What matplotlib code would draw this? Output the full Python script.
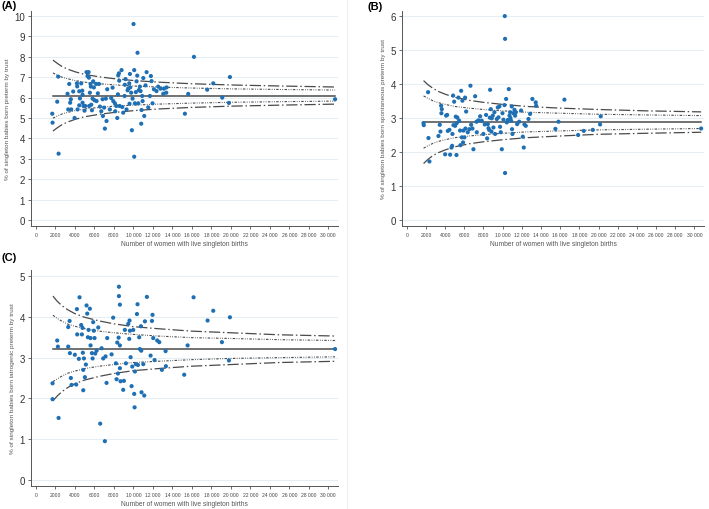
import numpy as np
import matplotlib
matplotlib.use("Agg")
import matplotlib.pyplot as plt

plt.rcParams["font.family"] = ["Liberation Sans", "DejaVu Sans"]

# trusts, panel A: all preterm births
a_births = [1680, 1710, 2190, 2290, 2330, 3250, 3320, 3420, 3520, 3590, 3630, 3830, 3970, 4210, 4240,
            4280, 4450, 4450, 4520, 4650, 4760, 4790, 4790, 4890, 4990, 5060, 5200, 5300, 5410, 5440,
            5470, 5540, 5610, 5640, 5680, 5750, 5820, 5880, 5950, 6020, 6190, 6230, 6360, 6470, 6570,
            6710, 6840, 6880, 7010, 7080, 7180, 7250, 7320, 7590, 7730, 7870, 7940, 8110, 8140, 8250,
            8350, 8420, 8450, 8520, 8550, 8590, 8790, 8860, 8960, 9100, 9130, 9200, 9300, 9410, 9480,
            9580, 9610, 9650, 9680, 9780, 9850, 9920, 10020, 10090, 10090, 10160, 10260, 10330, 10400, 10430,
            10500, 10570, 10670, 10740, 10810, 10840, 10910, 10950, 11020, 11120, 11250, 11360, 11530, 11700, 11800,
            11870, 11970, 12110, 12380, 12550, 12790, 13070, 13140, 13380, 13410, 15290, 15630, 16220, 17580, 18200,
            19120, 19810, 19910, 30700]
a_pct = [5.21, 4.77, 5.80, 7.03, 3.25, 6.19, 5.42, 6.67, 5.75, 5.92, 5.42, 6.30, 5.00, 6.70, 6.55,
         5.42, 5.62, 6.31, 5.96, 6.70, 6.34, 6.14, 5.75, 5.59, 5.36, 5.59, 7.25, 7.06, 7.25, 6.98,
         5.59, 6.24, 6.67, 6.54, 5.65, 5.38, 5.95, 6.80, 6.50, 5.87, 6.67, 5.83, 6.21, 6.67, 5.56,
         5.33, 5.92, 5.10, 5.51, 4.48, 5.95, 4.85, 6.41, 5.42, 5.98, 6.49, 5.83, 5.72, 5.33, 5.59,
         5.00, 6.16, 7.09, 7.19, 6.83, 5.59, 7.35, 5.54, 5.26, 6.08, 6.63, 6.91, 5.42, 6.36, 6.45,
         6.70, 5.70, 7.16, 6.50, 6.24, 4.40, 5.95, 9.61, 7.35, 3.10, 5.72, 6.27, 6.80, 7.08, 8.20,
         5.72, 6.37, 6.54, 6.32, 4.72, 5.39, 6.08, 5.83, 6.96, 5.10, 6.60, 7.25, 5.52, 6.08, 7.06,
         6.81, 5.72, 6.41, 6.32, 6.54, 6.44, 6.19, 6.44, 6.24, 6.50, 5.21, 6.18, 8.00, 6.39, 6.70,
         6.00, 5.74, 7.01, 5.92]
a_mean = 6.1

# panel B: spontaneous preterm births
b_births = [1740, 1770, 2220, 2260, 2360, 3300, 3440, 3510, 3580, 3610, 3650, 4000, 4100, 4210, 4280,
            4450, 4520, 4660, 4730, 4760, 4830, 4870, 4940, 5040, 5110, 5180, 5210, 5280, 5390, 5460,
            5560, 5600, 5670, 5740, 5800, 5870, 5910, 6010, 6080, 6120, 6190, 6360, 6530, 6640, 6710,
            6850, 6950, 7130, 7270, 7300, 7470, 7650, 7820, 7990, 8130, 8270, 8380, 8450, 8520, 8590,
            8660, 8690, 8760, 8830, 8860, 8970, 9040, 9140, 9210, 9390, 9490, 9560, 9660, 9730, 9800,
            9910, 9980, 10080, 10190, 10220, 10250, 10250, 10360, 10430, 10530, 10640, 10710, 10780, 10810, 10880,
            10950, 10980, 11020, 11120, 11230, 11300, 11370, 11510, 11720, 11920, 12100, 12200, 12270, 12410, 12690,
            12860, 13100, 13450, 13490, 15500, 15820, 16440, 17870, 18460, 19400, 20160, 20230, 30700]
b_pct = [2.85, 2.79, 3.76, 2.41, 1.72, 2.47, 2.80, 2.60, 3.36, 3.14, 3.26, 1.93, 3.07, 3.09, 2.62,
         2.65, 1.92, 2.13, 2.18, 2.53, 3.66, 2.79, 3.48, 2.77, 3.04, 1.91, 2.85, 3.01, 3.60, 2.92,
         2.63, 2.20, 3.80, 2.43, 3.51, 2.28, 2.63, 2.43, 3.60, 2.69, 3.19, 2.58, 2.67, 3.95, 2.80,
         2.69, 2.08, 3.64, 2.89, 2.58, 2.93, 3.05, 2.92, 2.53, 2.81, 3.09, 2.40, 2.82, 2.70, 2.65,
         3.01, 3.83, 3.26, 2.60, 2.99, 3.07, 2.72, 3.17, 2.53, 2.97, 3.31, 3.02, 3.34, 2.74, 2.58,
         2.08, 3.14, 2.95, 3.38, 6.00, 5.33, 1.38, 3.56, 2.87, 2.94, 3.85, 3.07, 3.17, 3.00, 2.92,
         3.34, 2.67, 2.53, 3.14, 3.24, 3.07, 3.17, 2.82, 2.89, 3.22, 2.45, 2.13, 2.81, 2.77, 2.97,
         3.12, 3.56, 3.46, 3.36, 2.68, 2.89, 3.54, 2.50, 2.62, 2.65, 2.81, 3.05, 2.69]
b_mean = 2.88

# panel C: iatrogenic preterm births
c_births = [1710, 1710, 2190, 2260, 2330, 3320, 3320, 3460, 3490, 3590, 3660, 4000, 4140, 4210, 4240,
            4410, 4480, 4650, 4720, 4790, 4820, 4860, 4860, 4930, 5030, 5130, 5200, 5270, 5340, 5410,
            5540, 5610, 5610, 5750, 5820, 5880, 5950, 6020, 6090, 6230, 6400, 6600, 6740, 6910, 7080,
            7150, 7250, 7320, 7770, 7930, 8210, 8280, 8350, 8420, 8490, 8520, 8520, 8620, 8620, 8620,
            8690, 8960, 9030, 9130, 9240, 9480, 9580, 9610, 9650, 9720, 9820, 9890, 9990, 10090, 10130,
            10160, 10260, 10370, 10430, 10470, 10600, 10670, 10780, 10810, 10840, 11020, 11120, 11190, 11390, 11770,
            11910, 11970, 12040, 12180, 12450, 12660, 12930, 13310, 13340, 15220, 15570, 16180, 17620, 18200, 19090,
            19810, 19910, 30700]
c_pct = [1.98, 2.37, 3.42, 3.27, 1.52, 3.75, 3.27, 3.90, 3.11, 2.50, 2.33, 3.07, 2.34, 4.19, 3.57,
         2.97, 4.48, 3.80, 3.57, 3.73, 3.12, 2.20, 2.70, 2.98, 2.52, 2.83, 4.28, 4.08, 3.50, 3.68,
         4.20, 3.30, 3.48, 3.11, 2.98, 3.87, 3.66, 3.48, 3.10, 3.17, 3.74, 1.38, 3.23, 2.98, 0.95,
         3.03, 2.38, 3.48, 3.08, 3.98, 2.86, 2.47, 3.37, 2.61, 3.49, 4.74, 4.51, 4.30, 3.30, 2.74,
         2.42, 2.21, 2.43, 3.68, 2.86, 3.83, 3.46, 3.91, 3.66, 3.01, 2.30, 2.78, 3.68, 2.11, 1.78,
         2.66, 2.84, 4.07, 4.31, 2.82, 3.50, 3.21, 3.77, 3.17, 2.15, 2.84, 2.07, 3.89, 4.49, 3.05,
         3.90, 4.05, 3.48, 2.94, 3.42, 3.38, 2.70, 3.16, 2.79, 2.58, 3.30, 4.48, 3.91, 4.15, 3.38,
         2.93, 3.99, 3.21]
c_mean = 3.22

# control limits read along the funnel
funnel_n = [1750, 2200, 2700, 3300, 4000, 5000, 6500, 8000, 10000, 12500, 16000, 20000, 25000, 30700]
a_u95 = [7.21, 7.10, 7.00, 6.92, 6.84, 6.76, 6.68, 6.63, 6.57, 6.52, 6.47, 6.43, 6.40, 6.37]
a_l95 = [4.99, 5.10, 5.20, 5.28, 5.36, 5.44, 5.52, 5.58, 5.63, 5.68, 5.73, 5.77, 5.80, 5.83]
a_u998 = [7.84, 7.68, 7.52, 7.39, 7.27, 7.14, 7.02, 6.93, 6.84, 6.76, 6.68, 6.62, 6.57, 6.52]
a_l998 = [4.36, 4.52, 4.68, 4.81, 4.93, 5.06, 5.18, 5.27, 5.36, 5.44, 5.52, 5.58, 5.63, 5.68]
b_u95 = [3.65, 3.58, 3.51, 3.45, 3.40, 3.34, 3.29, 3.25, 3.21, 3.17, 3.14, 3.11, 3.09, 3.07]
b_l95 = [2.11, 2.18, 2.25, 2.31, 2.36, 2.42, 2.47, 2.51, 2.55, 2.59, 2.62, 2.65, 2.67, 2.69]
b_u998 = [4.10, 3.98, 3.88, 3.78, 3.70, 3.61, 3.52, 3.46, 3.40, 3.34, 3.29, 3.25, 3.21, 3.18]
b_l998 = [1.66, 1.78, 1.89, 1.98, 2.06, 2.15, 2.24, 2.30, 2.36, 2.42, 2.47, 2.52, 2.55, 2.58]
c_u95 = [4.04, 3.96, 3.89, 3.82, 3.77, 3.71, 3.65, 3.61, 3.57, 3.53, 3.49, 3.47, 3.44, 3.42]
c_l95 = [2.41, 2.48, 2.55, 2.62, 2.67, 2.73, 2.79, 2.83, 2.88, 2.91, 2.95, 2.98, 3.00, 3.02]
c_u998 = [4.51, 4.38, 4.27, 4.17, 4.08, 3.99, 3.90, 3.83, 3.76, 3.71, 3.65, 3.61, 3.56, 3.53]
c_l998 = [1.94, 2.06, 2.17, 2.27, 2.36, 2.45, 2.54, 2.61, 2.68, 2.73, 2.79, 2.83, 2.88, 2.91]

x_ticks = list(range(0, 30001, 2000))
x_ticklabels = ["0", "2000", "4000", "6000", "8000", "10 000", "12 000", "14 000", "16 000",
                "18 000", "20 000", "22 000", "24 000", "26 000", "28 000", "30 000"]

dot_col = "#1f6fb4"
line_col = "#4a4a4a"
dash_998 = (0, (9, 2.2, 1.2, 2.2))
dash_95 = (0, (2.2, 1.3, 0.7, 1.3, 0.7, 1.3))


def funnel_panel(fig, rect, births, pct, mean, lims, ymax, ylim, ylabel, letter, letter_pos):
    ax = fig.add_axes(rect)
    u95, l95, u998, l998 = lims
    ax.plot([funnel_n[0], funnel_n[-1]], [mean, mean], color=line_col, lw=1.1, zorder=2)
    ax.plot(funnel_n, u998, color=line_col, lw=0.9, ls=dash_998, zorder=2)
    ax.plot(funnel_n, l998, color=line_col, lw=0.9, ls=dash_998, zorder=2)
    ax.plot(funnel_n, u95, color=line_col, lw=0.8, ls=dash_95, zorder=2)
    ax.plot(funnel_n, l95, color=line_col, lw=0.8, ls=dash_95, zorder=2)
    ax.scatter(births, pct, s=9, color=dot_col, edgecolors="none", zorder=3)

    ax.set_xlim(-500, 31000)
    ax.set_ylim(*ylim)
    ax.set_yticks(range(0, ymax + 1))
    ax.set_xticks(x_ticks)
    ax.set_xticklabels(x_ticklabels)
    ax.grid(axis="y", color="#e6eef4", lw=0.8, zorder=0)
    ax.set_axisbelow(True)
    for s in ["top", "right"]:
        ax.spines[s].set_visible(False)
    for s in ["left", "bottom"]:
        ax.spines[s].set_color("#555555")
        ax.spines[s].set_linewidth(0.7)
    ax.tick_params(axis="x", labelsize=3.6, length=2.5, width=0.6, color="#555555",
                   labelcolor="#444444", pad=2)
    ax.tick_params(axis="y", labelsize=7, length=2.5, width=0.6, color="#555555",
                   labelcolor="#333333", pad=2)
    ax.set_xlabel("Number of women with live singleton births", fontsize=4.8, color="#555555", labelpad=2)
    ax.set_ylabel(ylabel, fontsize=4.6, color="#555555", labelpad=3)
    fig.text(letter_pos[0], letter_pos[1], letter, fontsize=8, fontweight="bold", va="top", ha="left")
    return ax


W, H = 709, 510
fig = plt.figure(figsize=(W / 100, H / 100), dpi=100)
fig.patch.set_facecolor("white")


def rect(l, r, t, b):
    return [l / W, 1 - b / H, (r - l) / W, (b - t) / H]


funnel_panel(fig, rect(31, 338, 12, 227), a_births, a_pct, a_mean, (a_u95, a_l95, a_u998, a_l998),
             10, (-0.3, 10.25), "% of singleton babies born preterm by trust", "(A)", (1 / W, 1 - 1 / H))
funnel_panel(fig, rect(402, 704, 12, 227), b_births, b_pct, b_mean, (b_u95, b_l95, b_u998, b_l998),
             6, (-0.18, 6.15), "% of singleton babies born spontaneous preterm by trust", "(B)",
             (367 / W, 1 - 2 / H))
funnel_panel(fig, rect(31, 338, 271, 487), c_births, c_pct, c_mean, (c_u95, c_l95, c_u998, c_l998),
             5, (-0.15, 5.15), "% of singleton babies born iatrogenic preterm by trust", "(C)",
             (1 / W, 1 - 253 / H))

# faint panel border between the left and right images
fig.add_artist(plt.Line2D([347 / W, 347 / W], [0, 1], color="#eeeeee", lw=0.8))

plt.savefig("out.png", dpi=100)
